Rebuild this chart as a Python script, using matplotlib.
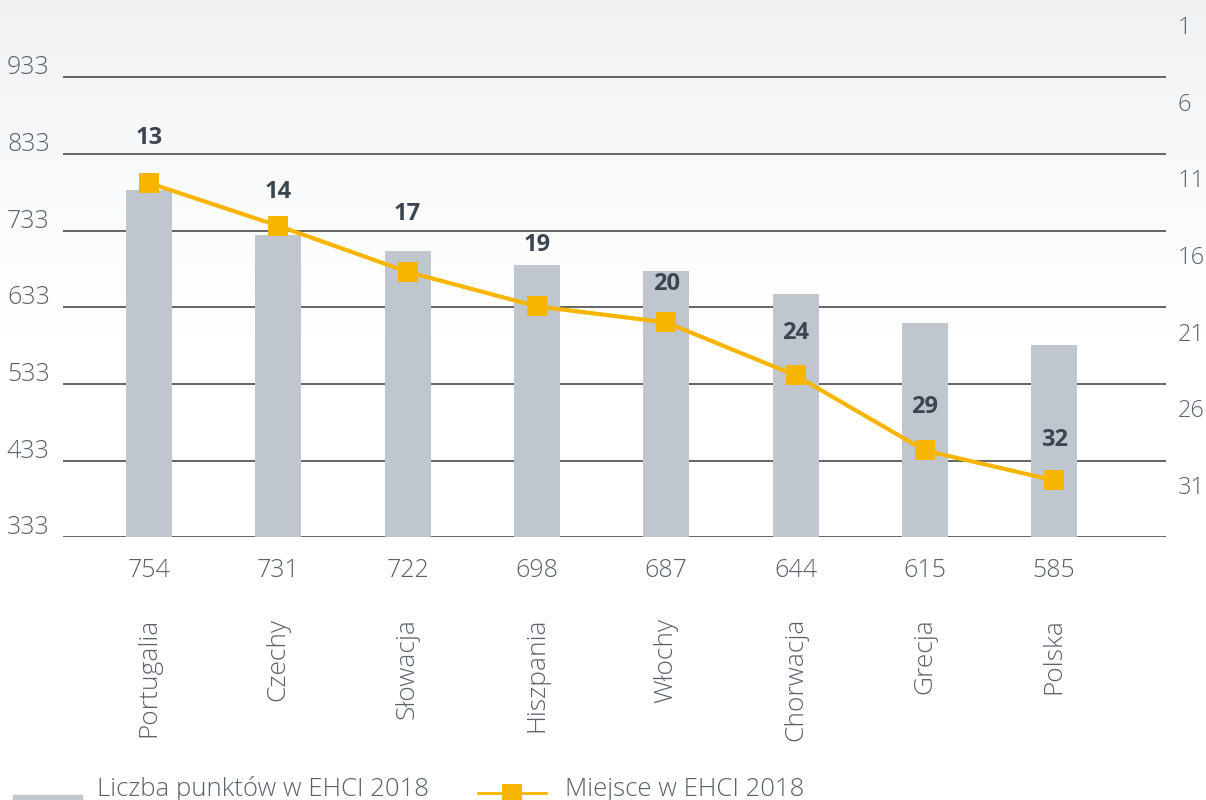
"""
EHCI 2018: liczba punktów (słupki) i miejsce w rankingu (linia) - wybrane kraje.
Zapis do out.png (1206x800).
"""
import numpy as np
import matplotlib
matplotlib.use("Agg")
import matplotlib.pyplot as plt
from matplotlib.patches import Rectangle
from matplotlib.lines import Line2D
from matplotlib.transforms import ScaledTranslation

plt.rcParams["font.family"] = ["Open Sans", "DejaVu Sans"]

# --- dane ---
countries = ["Portugalia", "Czechy", "Słowacja", "Hiszpania",
             "Włochy", "Chorwacja", "Grecja", "Polska"]
points = [754, 731, 722, 698, 687, 644, 615, 585]          # podpisy pod osią
bar_height = [786, 727, 706, 688, 680, 650, 612, 584]      # wysokości słupków
ranks = [13, 14, 17, 19, 20, 24, 29, 32]                   # podpisy nad znacznikami
rank_pos = [11.3, 14.1, 17.1, 19.35, 20.4, 23.85, 28.75, 30.7]  # położenie znaczników na osi miejsc
left_ticks = [333, 433, 533, 633, 733, 833, 933]
right_ticks = [1, 6, 11, 16, 21, 26, 31]

# --- styl ---
W, H, DPI = 1206, 800, 100
BAR_C = "#bfc6cd"
LINE_C = "#f8b500"
TXT_C = "#59626b"
LBL_C = "#3c4650"
GRID_C = "#4a4a4a"
label_dy = [45, 34, 58, 61, 38, 42, 43, 40]   # odstęp podpisu od znacznika [px]


def fx(x):
    return x / W


def fy(y):
    return 1 - y / H


fig = plt.figure(figsize=(W / DPI, H / DPI), dpi=DPI)

# tło z gradientem (jasnoszary u góry -> biały)
bg = fig.add_axes([0, 0, 1, 1], zorder=-10)
rows = np.linspace(0, 1, 400)
top = np.array([0.937, 0.945, 0.953])
alpha = np.clip(1 - rows / 0.42, 0, 1) ** 1.3
grad = 1 - (1 - top)[None, :] * alpha[:, None]
bg.imshow(grad[:, None, :], aspect="auto", extent=[0, 1, 0, 1])
bg.set_axis_off()

# główna oś (punkty)
ax = fig.add_axes([fx(63), fy(537.3), fx(1166 - 63), 537.3 / H])
ax.set_facecolor("none")
x = np.arange(len(countries))
ax.bar(x, bar_height, width=0.356, color=BAR_C, zorder=2)
ax.set_xlim(-0.665, 7.865)
ax.set_ylim(333, 333 + 537.3 / 0.7667)
ax.set_yticks(left_ticks)
ax.set_yticklabels([str(t) for t in left_ticks])
ax.grid(axis="y", color=GRID_C, lw=1.2)
ax.set_axisbelow(True)
for s in ax.spines.values():
    s.set_visible(False)
ax.tick_params(axis="y", length=0, pad=9.5, labelsize=18, labelcolor=TXT_C)
off = ScaledTranslation(0, 0.125, fig.dpi_scale_trans)
for lab in ax.get_yticklabels():
    lab.set_transform(lab.get_transform() + off)
    lab.set_fontweight("light")

ax.set_xticks(x)
ax.set_xticklabels([str(p) for p in points])
ax.tick_params(axis="x", length=0, pad=15, labelsize=18, labelcolor=TXT_C)
for lab in ax.get_xticklabels():
    lab.set_fontweight("light")

y_name = -(618 - 537.3) / 537.3
for i, name in enumerate(countries):
    ax.text(i, y_name, name, transform=ax.get_xaxis_transform(), rotation=90,
            ha="center", va="top", fontsize=19, color=TXT_C, fontweight="light")

# oś miejsc (odwrócona, po prawej)
ax2 = ax.twinx()
ax2.set_facecolor("none")
ax2.set_ylim(1 + 512.3 / 15.333, 1 - 25 / 15.333)
ax2.plot(x, rank_pos, color=LINE_C, lw=3, marker="s", markersize=13.7,
         markeredgewidth=0, zorder=3)
ax2.set_yticks(right_ticks)
ax2.set_yticklabels([str(t) for t in right_ticks])
ax2.tick_params(axis="y", length=0, pad=8.5, labelsize=17, labelcolor=TXT_C)
for lab in ax2.get_yticklabels():
    lab.set_fontweight("light")
for s in ax2.spines.values():
    s.set_visible(False)

for i, (r, rp) in enumerate(zip(ranks, rank_pos)):
    ax2.annotate(str(r), (i, rp), xytext=(0, label_dy[i] * 0.72),
                 textcoords="offset points", ha="center", va="center",
                 fontsize=17, fontweight="bold", color=LBL_C)

# legenda (ręcznie, przy dolnej krawędzi)
fig.patches.append(Rectangle((fx(13), fy(815)), fx(82 - 13), 20 / H,
                             transform=fig.transFigure, color=BAR_C))
fig.text(fx(97), fy(796), "Liczba punktów w EHCI 2018", fontsize=18.5,
         color=TXT_C, va="baseline", fontweight="light")
fig.lines.append(Line2D([fx(478), fx(546)], [fy(793), fy(793)],
                        transform=fig.transFigure, color=LINE_C, lw=2))
fig.lines.append(Line2D([fx(511.5)], [fy(793.5)], transform=fig.transFigure,
                        color=LINE_C, marker="s", markersize=13.7,
                        markeredgewidth=0))
fig.text(fx(565), fy(796), "Miejsce w EHCI 2018", fontsize=18.5,
         color=TXT_C, va="baseline", fontweight="light")

fig.savefig("out.png", dpi=DPI)
